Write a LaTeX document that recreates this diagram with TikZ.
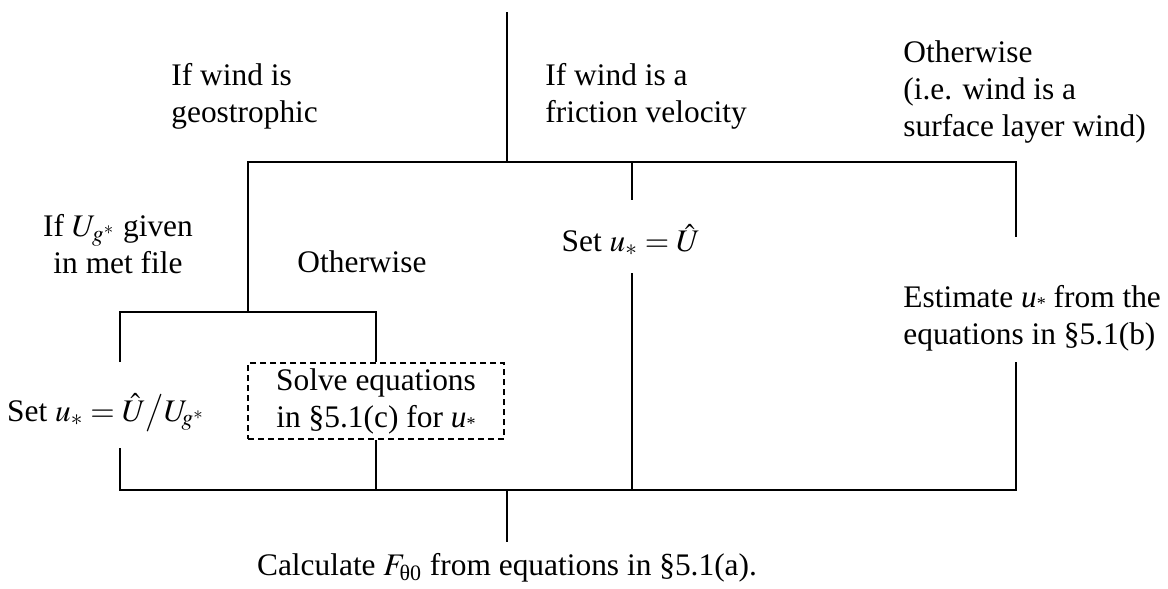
\documentclass[tikz,border=0pt]{standalone}
\usepackage{mathptmx}
\usepackage{fontspec}
\setmainfont{Liberation Serif}
\usetikzlibrary{positioning}

\newcommand{\ustar}{\textit{u}\raisebox{-0.15ex}{\small*}}

\begin{document}
\begin{tikzpicture}[
      x=0.5pt, y=-0.5pt, % pixel units, y downwards
      every node/.style={font=\fontsize{15.7}{18.5}\selectfont, inner sep=0pt},
      branch/.style={line width=1pt, line join=miter}, % tree lines
      dashbox/.style={draw, line width=0.9pt, dash pattern=on 3pt off 2pt,
        minimum width=128pt, minimum height=38pt, align=center},
    ]
    \useasboundingbox (0,0) rectangle (1168,589);

    % Koordinaten der Verzweigungen
    \coordinate (top) at (507,12);
    \coordinate (T) at (507,162);
    \coordinate (TL) at (248,162);
    \coordinate (TR) at (1016,162);
    \coordinate (TM) at (632,162);
    \coordinate (M1) at (632,200);
    \coordinate (M2) at (632,273);
    \coordinate (MB) at (632,490);
    \coordinate (R1) at (1016,237);
    \coordinate (R2) at (1016,362);
    \coordinate (RB) at (1016,490);
    \coordinate (L) at (248,312);
    \coordinate (LL) at (120,312);
    \coordinate (LR) at (376,312);
    \coordinate (LL1) at (120,362);
    \coordinate (LL2) at (120,448);
    \coordinate (LLB) at (120,490);
    \coordinate (LRB) at (376,490);
    \coordinate (B) at (507,490);
    \coordinate (bot) at (507,542);

    % Texte
    \node[align=left, anchor=west] (geo) at (171,96) {If wind is\\geostrophic};
    \node[align=left, anchor=west] (fric) at (545,96) {If wind is a\\friction velocity};
    \node[align=left, anchor=west] (other) at (903,92) {Otherwise\\(i.e. wind is a\\surface layer wind)};
    \node[align=center] (given) at (118,244) {If $U_{g^*}$ given\\in met file};
    \node (otherg) at (362,262) {Otherwise};
    \node (setU) at (631,240) {Set $u_* = \hat{U}$};
    \node (setUg) at (106,413) {Set $u_* = \hat{U}\big/U_{\!g^*}$};
    \node[dashbox] (solve) at (376,401) {Solve equations\\in §5.1(c) for \ustar};
    \node[align=left, anchor=west] (est) at (903,318) {Estimate \ustar{} from the\\equations in §5.1(b)};
    \node (calc) at (507,568) {Calculate $F_{\mbox{\fontsize{11}{11}\selectfont θ0}}$ from equations in §5.1(a).};

    % Baum
    \draw[branch] (top) -- (T);
    \draw[branch] (L) -- (TL) -- (TR) -- (R1);
    \draw[branch] (TM) -- (M1);
    \draw[branch] (M2) -- (MB);
    \draw[branch] (LL1) -- (LL) -- (LR) -- (solve.north);
    \draw[branch] (solve.south) -- (LRB);
    \draw[branch] (LL2) -- (LLB) -- (RB) -- (R2);
    \draw[branch] (B) -- (bot);

  \end{tikzpicture}
\end{document}
